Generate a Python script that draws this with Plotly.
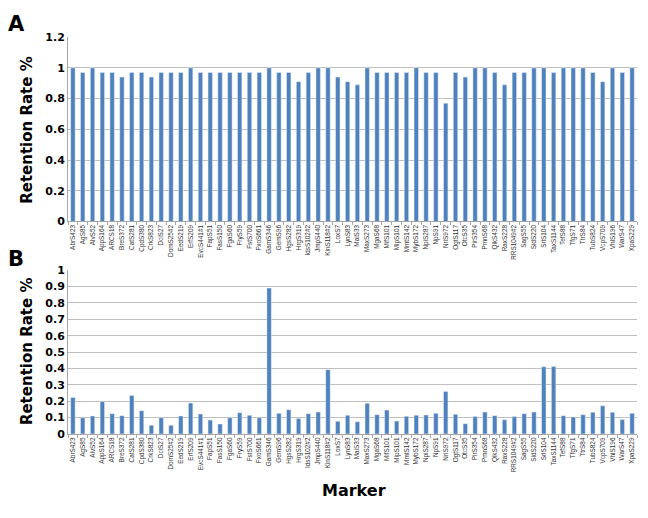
import plotly.graph_objects as go

# Marker names (shared by both panels)
markers = [
    "AbrS423", "AgS85", "AlvS52", "AppS164", "ARCS18", "BreS372", "CatS281",
    "CpdS380", "CrkS823", "DciS27", "DomS25#2", "EedS219", "ErfS209",
    "EvcS441#1", "FapS51", "FasS150", "FgaS60", "FryS59", "FstS700",
    "FxoS661", "GamS346", "GemS96", "HgsS282", "HrgS319", "IdsS102#2",
    "JmpS440", "KinS118#2", "LoxS7", "LynS83", "MaiS33", "MaxS273", "MgaS68",
    "MifS101", "MipS101", "MmtS142", "MybS172", "NpiS287", "NpS91", "NriS972",
    "OgtS117", "OtcS35", "PirS354", "PmnS68", "QikS432", "RaxS228",
    "RRS1049#2", "SagS55", "SidS220", "SrlS104", "TaxS1144", "TefS88",
    "TfgS71", "TtrS84", "TubS824", "VcpS709", "VhlS196", "WarS47", "XpaS229",
]

# Panel A: retention rate
retention_a = [
    1.00, 0.97, 1.00, 0.97, 0.97, 0.94, 0.97, 0.97, 0.94, 0.97, 0.97, 0.97,
    1.00, 0.97, 0.97, 0.97, 0.97, 0.97, 0.97, 0.97, 1.00, 0.97, 0.97, 0.91,
    0.97, 1.00, 1.00, 0.94, 0.91, 0.89, 1.00, 0.97, 0.97, 0.97, 0.97, 1.00,
    0.97, 0.97, 0.77, 0.97, 0.94, 1.00, 1.00, 0.97, 0.89, 0.97, 0.97, 1.00,
    1.00, 0.97, 1.00, 1.00, 1.00, 0.97, 0.91, 1.00, 0.97, 1.00,
]

# Panel B: retention rate
retention_b = [
    0.223, 0.099, 0.110, 0.199, 0.124, 0.112, 0.235, 0.142, 0.053, 0.099,
    0.053, 0.110, 0.189, 0.122, 0.085, 0.061, 0.099, 0.130, 0.114, 0.099,
    0.891, 0.126, 0.148, 0.095, 0.124, 0.134, 0.392, 0.077, 0.114, 0.075,
    0.187, 0.118, 0.146, 0.079, 0.108, 0.114, 0.116, 0.126, 0.260, 0.120,
    0.063, 0.106, 0.134, 0.112, 0.087, 0.106, 0.124, 0.134, 0.410, 0.412,
    0.112, 0.104, 0.118, 0.132, 0.172, 0.132, 0.089, 0.126,
]

BAR = "#4F81BD"
GRID = "#BFBFBF"
BOLD = "DejaVu Sans"
SMALL = "Liberation Sans"

fig = go.Figure()
fig.add_trace(go.Bar(x=markers, y=retention_a, marker_color=BAR,
                     xaxis="x", yaxis="y", showlegend=False))
fig.add_trace(go.Bar(x=markers, y=retention_b, marker_color=BAR,
                     xaxis="x2", yaxis="y2", showlegend=False))

W, H = 648, 518
x_dom = [68 / W, 637 / W]

xcommon = dict(
    type="category", showgrid=False, showline=True, linecolor="#A6A6A6",
    linewidth=1, ticks="outside", tickson="boundaries", ticklen=3,
    tickcolor="#A6A6A6", tickangle=-90,
    tickfont=dict(family=SMALL, size=6.4, color="#333333"),
    domain=x_dom, fixedrange=True,
)
ycommon = dict(
    showgrid=True, gridcolor=GRID, gridwidth=1, showline=True,
    linecolor="#A6A6A6", linewidth=1, zeroline=False, ticks="",
    tickfont=dict(family=BOLD, size=11, color="#000000", weight="bold"),
    fixedrange=True,
)

fig.update_layout(
    width=W, height=H,
    margin=dict(l=0, r=0, t=0, b=0),
    paper_bgcolor="white", plot_bgcolor="white",
    bargap=0.55,
    xaxis=dict(**xcommon, anchor="y"),
    yaxis=dict(**ycommon, anchor="x", range=[0, 1.2], dtick=0.2,
               domain=[1 - 221 / H, 1 - 32 / H]),
    xaxis2=dict(**xcommon, anchor="y2"),
    yaxis2=dict(**ycommon, anchor="x2", range=[0, 1], dtick=0.1,
                domain=[1 - 439 / H, 1 - 271 / H]),
)

def label(text, x, y, size, angle=0):
    fig.add_annotation(
        text=text, x=x / W, y=1 - y / H, xref="paper", yref="paper",
        showarrow=False, textangle=angle, xanchor="center", yanchor="middle",
        font=dict(family=BOLD, size=size, color="#000000", weight="bold"),
    )

label("A", 16, 18, 21)
label("B", 16, 260, 21)
label("Retention Rate %", 27, 127, 15, -90)
label("Retention Rate %", 27, 354, 15, -90)
label("Marker", 354, 497, 16)

fig.write_html("out.html")
